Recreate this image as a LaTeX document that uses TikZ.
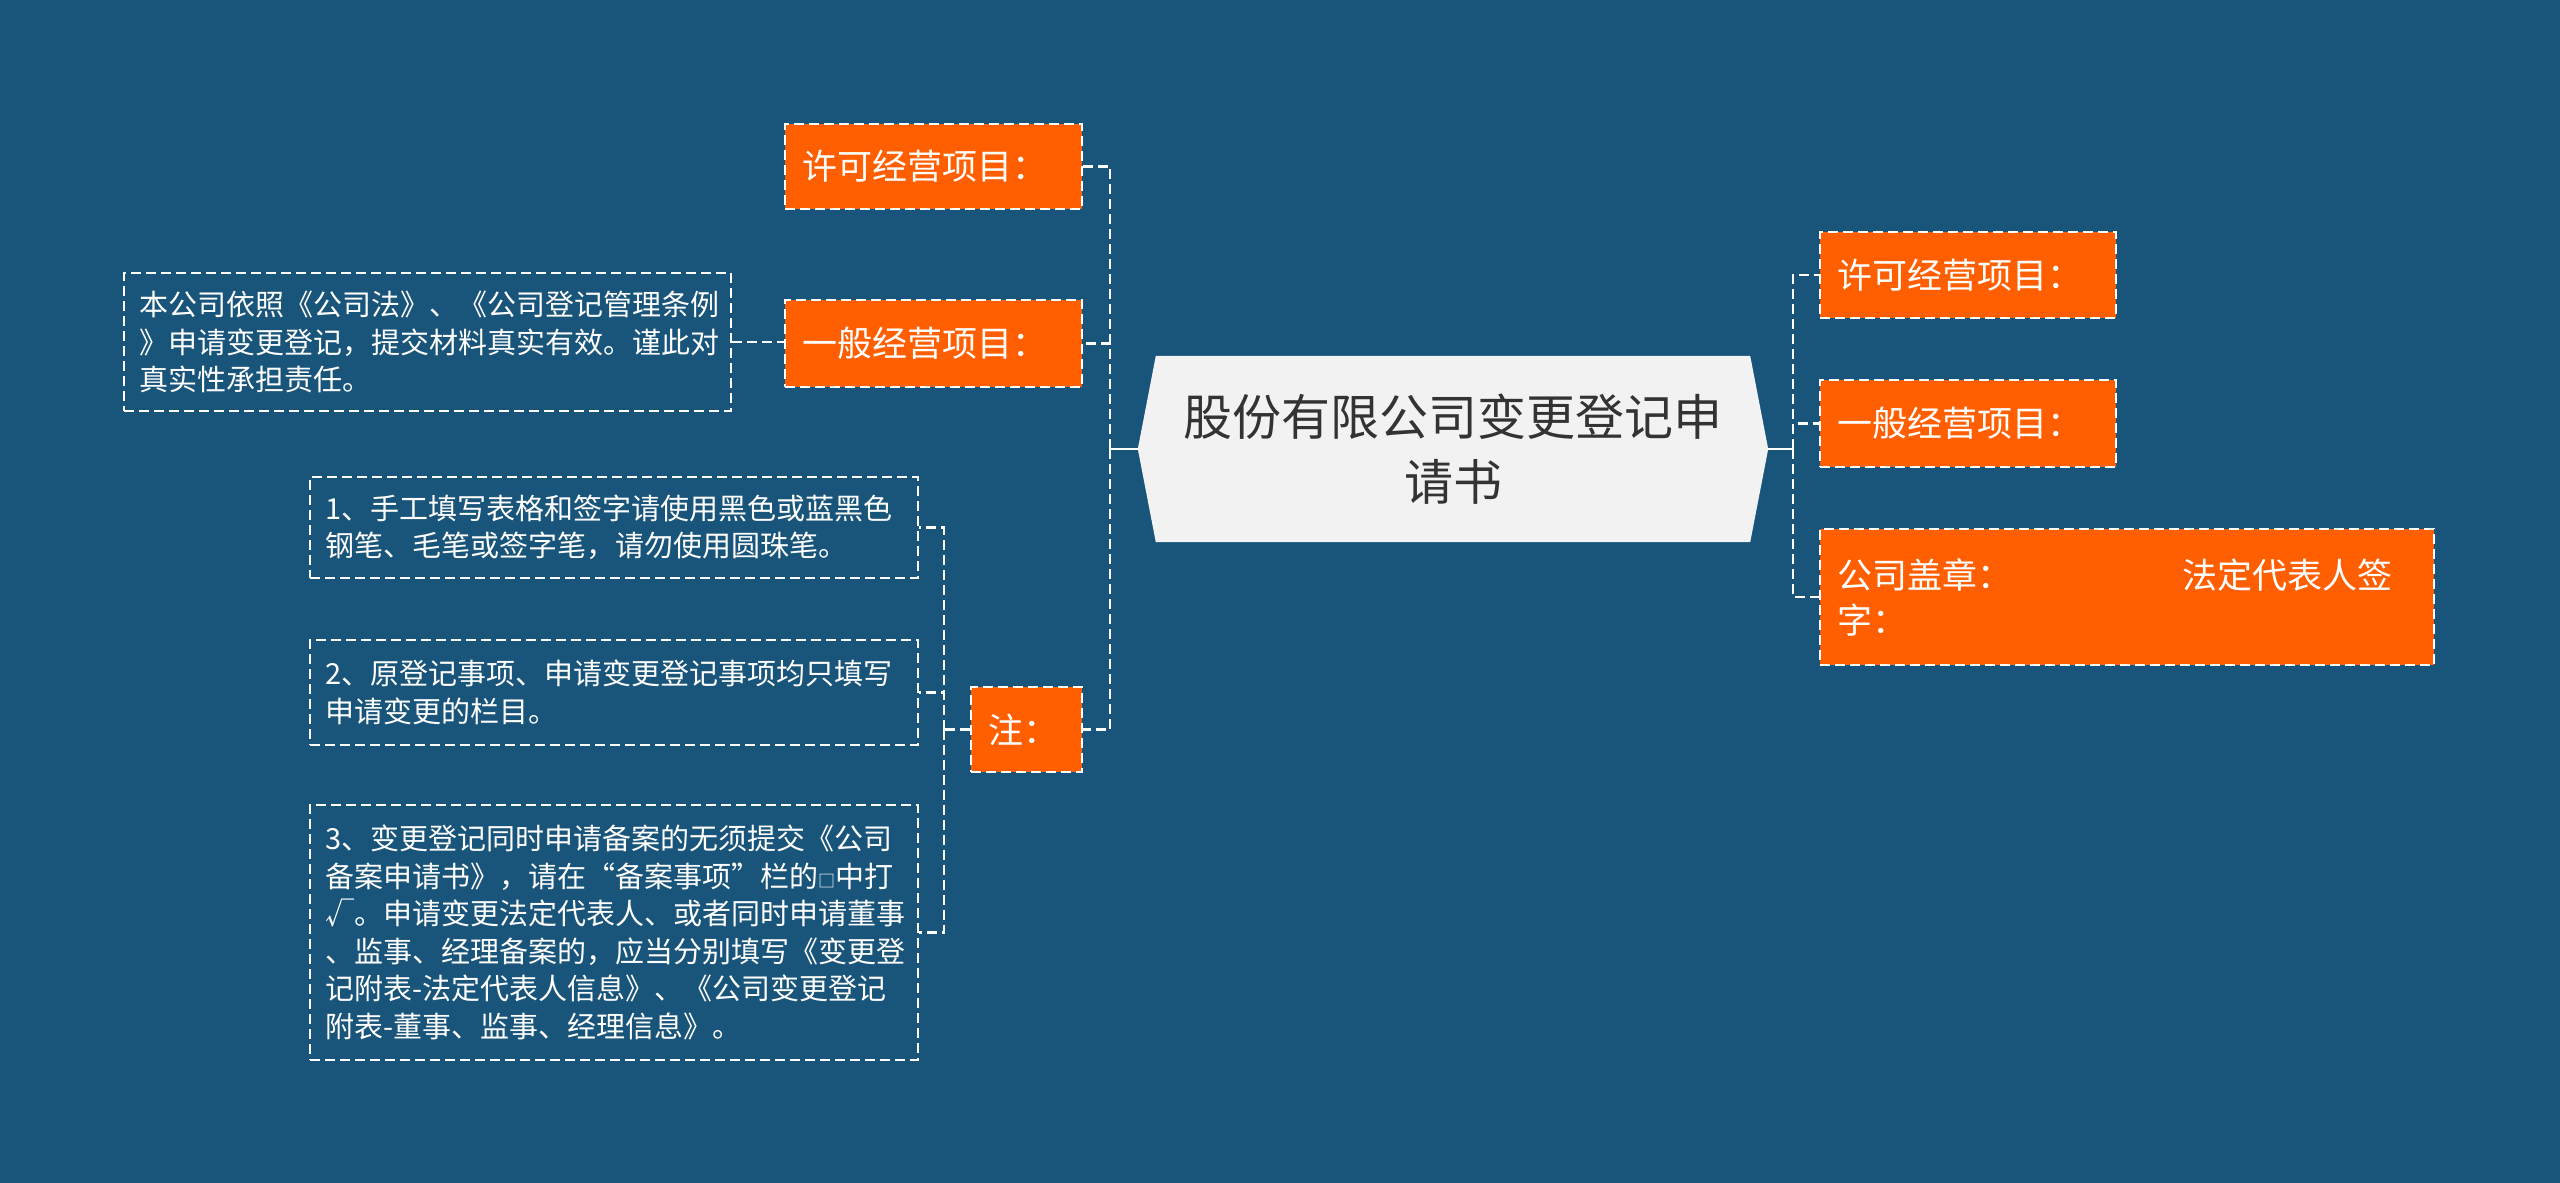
\documentclass[tikz,border=0pt]{standalone}
\usepackage{fontspec}
\setmainfont{Noto Sans CJK SC}
\newfontfamily\cjk{Noto Sans CJK SC}
\usetikzlibrary{calc,backgrounds}
\definecolor{bgc}{RGB}{25,84,122}
\definecolor{orangec}{RGB}{255,95,0}
\definecolor{centerfill}{RGB}{242,242,242}
\definecolor{centertext}{RGB}{51,51,51}
\begin{document}
\begin{tikzpicture}[x=1pt,y=-1pt,
 dashline/.style={draw=white, line width=2.8pt, dash pattern=on 10pt off 5pt},
 orangebox/.style={dashline, fill=orangec, text=white, font=\cjk\fontsize{35}{45}\selectfont, inner xsep=17pt, inner ysep=0pt, align=left},
 notebox/.style={dashline, text=white, font=\cjk\fontsize{29}{37.5}\selectfont, inner xsep=15pt, inner ysep=0pt, align=left},
 conn/.style={dashline},
 stub/.style={draw=white, line width=2.8pt}]
\begin{scope}[on background layer]
\fill[bgc] (0,0) rectangle (2560,1183);
\end{scope}
\useasboundingbox (0,0) rectangle (2560,1183);

% central topic
\node[minimum width=630pt, minimum height=186pt, inner sep=0pt, text=centertext,
  font=\cjk\fontsize{49}{65}\selectfont, align=center] (C) at (1453,449)
  {股份有限公司变更登记申\\请书};
\begin{scope}[on background layer]
\fill[centerfill] (C.west) -- ($(C.north west)+(18,0)$) -- ($(C.north east)+(-18,0)$)
  -- (C.east) -- ($(C.south east)+(-18,0)$) -- ($(C.south west)+(18,0)$) -- cycle;
\end{scope}

% left branch
\node[orangebox, text width=263pt, minimum height=85pt] (L1) at (933.5,166.5) {许可经营项目：};
\node[orangebox, text width=263pt, minimum height=87pt] (L2) at (933.5,343.5) {一般经营项目：};
\node[orangebox, text width=77pt, minimum height=85pt] (Z) at (1026.5,729.5) {注：};
\node[notebox, text width=577pt, minimum height=138pt] (T) at (427.5,342)
  {本公司依照《公司法》、《公司登记管理条例\\》申请变更登记，提交材料真实有效。谨此对\\真实性承担责任。};
\node[notebox, text width=578pt, minimum height=101pt] (N1) at (614,527.5)
  {1、手工填写表格和签字请使用黑色或蓝黑色\\钢笔、毛笔或签字笔，请勿使用圆珠笔。};
\node[notebox, text width=578pt, minimum height=105pt] (N2) at (614,692.5)
  {2、原登记事项、申请变更登记事项均只填写\\申请变更的栏目。};
\node[notebox, text width=578pt, minimum height=255pt] (N3) at (614,932.5)
  {3、变更登记同时申请备案的无须提交《公司\\备案申请书》，请在“备案事项”栏的{\fontsize{17}{17}\selectfont □}中打\\√。申请变更法定代表人、或者同时申请董事\\、监事、经理备案的，应当分别填写《变更登\\记附表-法定代表人信息》、《公司变更登记\\附表-董事、监事、经理信息》。};

% right branch
\node[orangebox, text width=262pt, minimum height=86pt] (R1) at (1968,275) {许可经营项目：};
\node[orangebox, text width=262pt, minimum height=87pt] (R2) at (1968,423.5) {一般经营项目：};
\node[orangebox, text width=580pt, minimum height=136pt] (R3) at (2127,597)
  {公司盖章：\hspace{170pt}法定代表人签\\字：};

% connectors
\coordinate (LT) at (1110,449);
\coordinate (RT) at (1793,449);
\coordinate (NT) at (944,729.5);
\draw[stub] (C.west) -- (LT);
\draw[stub] (C.east) -- (RT);
\draw[conn] (LT) |- (L1.east);
\draw[conn] (LT) |- (L2.east);
\draw[conn] (LT) |- (Z.east);
\draw[conn] (T.east) -- (T.east -| L2.west);
\draw[conn] (Z.west) -- (NT);
\draw[conn] (NT) |- (N1.east);
\draw[conn] (NT) |- (N2.east);
\draw[conn] (NT) |- (N3.east);
\draw[conn] (RT) |- (R1.west);
\draw[conn] (RT) |- (R2.west);
\draw[conn] (RT) |- (R3.west);
\end{tikzpicture}
\end{document}
